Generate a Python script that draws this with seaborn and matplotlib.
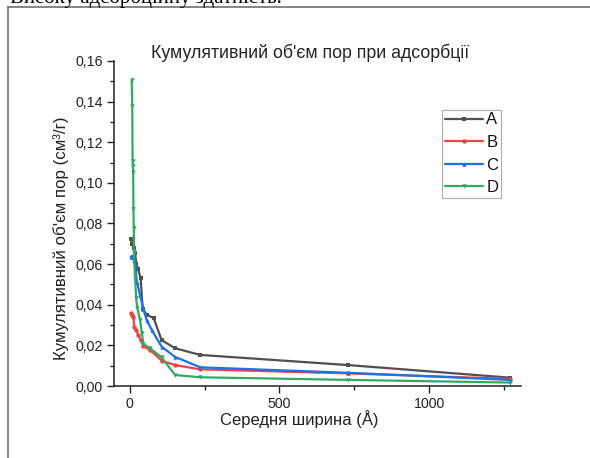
import matplotlib
matplotlib.use("Agg")
import matplotlib.pyplot as plt
from matplotlib.lines import Line2D
from matplotlib.ticker import FuncFormatter, MultipleLocator
import seaborn as sns
import pandas as pd

# ---- data ----
A_x = [3, 8, 13, 17, 22, 28, 36, 43, 56, 80, 106, 151, 235, 730, 1270]
A_y = [0.0722, 0.0700, 0.0680, 0.0656, 0.0600, 0.0574, 0.0530, 0.0378, 0.0352, 0.0333, 0.0226, 0.0186, 0.0153, 0.0103, 0.0041]

B_x = [3, 8, 12, 14, 21, 28, 36, 45, 67, 106, 151, 235, 730, 1270]
B_y = [0.0358, 0.0350, 0.0341, 0.0292, 0.0276, 0.0251, 0.0226, 0.0196, 0.0178, 0.0125, 0.0103, 0.0082, 0.0062, 0.0035]

C_x = [3, 8, 13, 18, 23, 34, 45, 56, 73, 106, 150, 235, 730, 1270]
C_y = [0.0637, 0.0640, 0.0620, 0.0600, 0.0514, 0.0448, 0.0378, 0.0325, 0.0276, 0.0194, 0.0144, 0.0092, 0.0065, 0.0030]

D_x = [6, 8, 9, 10, 11, 12, 13, 14, 17, 21, 25, 34, 40, 45, 67, 106, 151, 235, 730, 1270]
D_y = [0.1507, 0.1379, 0.1110, 0.1083, 0.1055, 0.0870, 0.0780, 0.0653, 0.0547, 0.0432, 0.0383, 0.0325, 0.0260, 0.0207, 0.0186, 0.0141, 0.0054, 0.0043, 0.0030, 0.0017]

series_names = ["A", "B", "C", "D"]
title_text = "Кумулятивний об'єм пор при адсорбції"
x_label = "Середня ширина (Å)"
y_label = "Кумулятивний об'єм пор (см³/г)"
doc_text = "Високу адсорбційну здатність."

# ---- style ----
sns.set_theme(style="white")
plt.rcParams['font.family'] = ['Liberation Sans', 'DejaVu Sans']

colors = {"A": "#505050", "B": "#f04444", "C": "#1f6fe6", "D": "#2eaa62"}
markers = {"A": "s", "B": "o", "C": "^", "D": "v"}

fig = plt.figure(figsize=(5.9, 4.58), dpi=100)
fig.patch.set_facecolor("white")
ax = fig.add_axes([114/590, 1 - 386/458, (521 - 114)/590, (386 - 61)/458])

data = {"A": (A_x, A_y), "B": (B_x, B_y), "C": (C_x, C_y), "D": (D_x, D_y)}
for name in series_names:
    xs, ys = data[name]
    df = pd.DataFrame({"x": xs, "y": ys})
    sns.lineplot(data=df, x="x", y="y", ax=ax, sort=False, color=colors[name],
                 marker=markers[name], markersize=3.2, markeredgewidth=0,
                 linewidth=1.6, label=name, legend=False)

ax.set_xlim(-53, 1307)
ax.set_ylim(0, 0.16)
ax.xaxis.set_major_locator(MultipleLocator(500))
ax.xaxis.set_minor_locator(MultipleLocator(250))
ax.yaxis.set_major_locator(MultipleLocator(0.02))
ax.yaxis.set_minor_locator(MultipleLocator(0.01))
ax.yaxis.set_major_formatter(FuncFormatter(lambda v, p: f"{v:.2f}".replace(".", ",")))
ax.xaxis.set_major_formatter(FuncFormatter(lambda v, p: f"{v:.0f}"))

for s in ["top", "right"]:
    ax.spines[s].set_visible(False)
for s in ["left", "bottom"]:
    ax.spines[s].set_color("#222222")
    ax.spines[s].set_linewidth(1.1)
ax.tick_params(which="major", direction="out", length=5, width=1, color="#222222",
               labelsize=10.2, labelcolor="#222222", pad=3, bottom=True, left=True)
ax.tick_params(which="minor", direction="out", length=3, width=1, color="#222222",
               bottom=True, left=True)
ax.grid(False)

ax.set_xlabel(x_label, fontsize=12, color="#222222")
ax.set_ylabel(y_label, fontsize=12.2, color="#222222")
ax.xaxis.set_label_coords((299 - 114) / 407, -(410 - 386) / 325)
ax.yaxis.set_label_coords((69 - 114) / 407, (386 - 238) / 325)
fig.text(310/590, 1 - 53/458, title_text, ha="center", va="center", fontsize=12.8, color="#222222")

handles = [Line2D([0], [0], color=colors[n], marker=markers[n], markersize=3.2,
                  markeredgewidth=0, linewidth=1.6) for n in series_names]
leg = ax.legend(handles, series_names, loc="upper left",
                bbox_to_anchor=(442/590, 1 - 110/458), bbox_transform=fig.transFigure,
                fontsize=12, frameon=True, fancybox=False, borderaxespad=0,
                handlelength=2.3, handletextpad=0.2, borderpad=0.15, labelspacing=0.45)
leg.get_frame().set_edgecolor("#999999")
leg.get_frame().set_linewidth(0.8)
for t in leg.get_texts():
    t.set_color("#111111")

# document frame and cut-off text line
fig.add_artist(Line2D([8/590, 8/590], [0, 1 - 7/458], transform=fig.transFigure, color="#707070", linewidth=1.2))
fig.add_artist(Line2D([8/590, 1], [1 - 7/458, 1 - 7/458], transform=fig.transFigure, color="#707070", linewidth=1.2))
fig.text(10/590, 1 - 3/458, doc_text, ha="left", va="baseline", fontsize=15,
         family=["Liberation Serif", "DejaVu Serif"], color="black")

fig.savefig("out.png", dpi=100)
